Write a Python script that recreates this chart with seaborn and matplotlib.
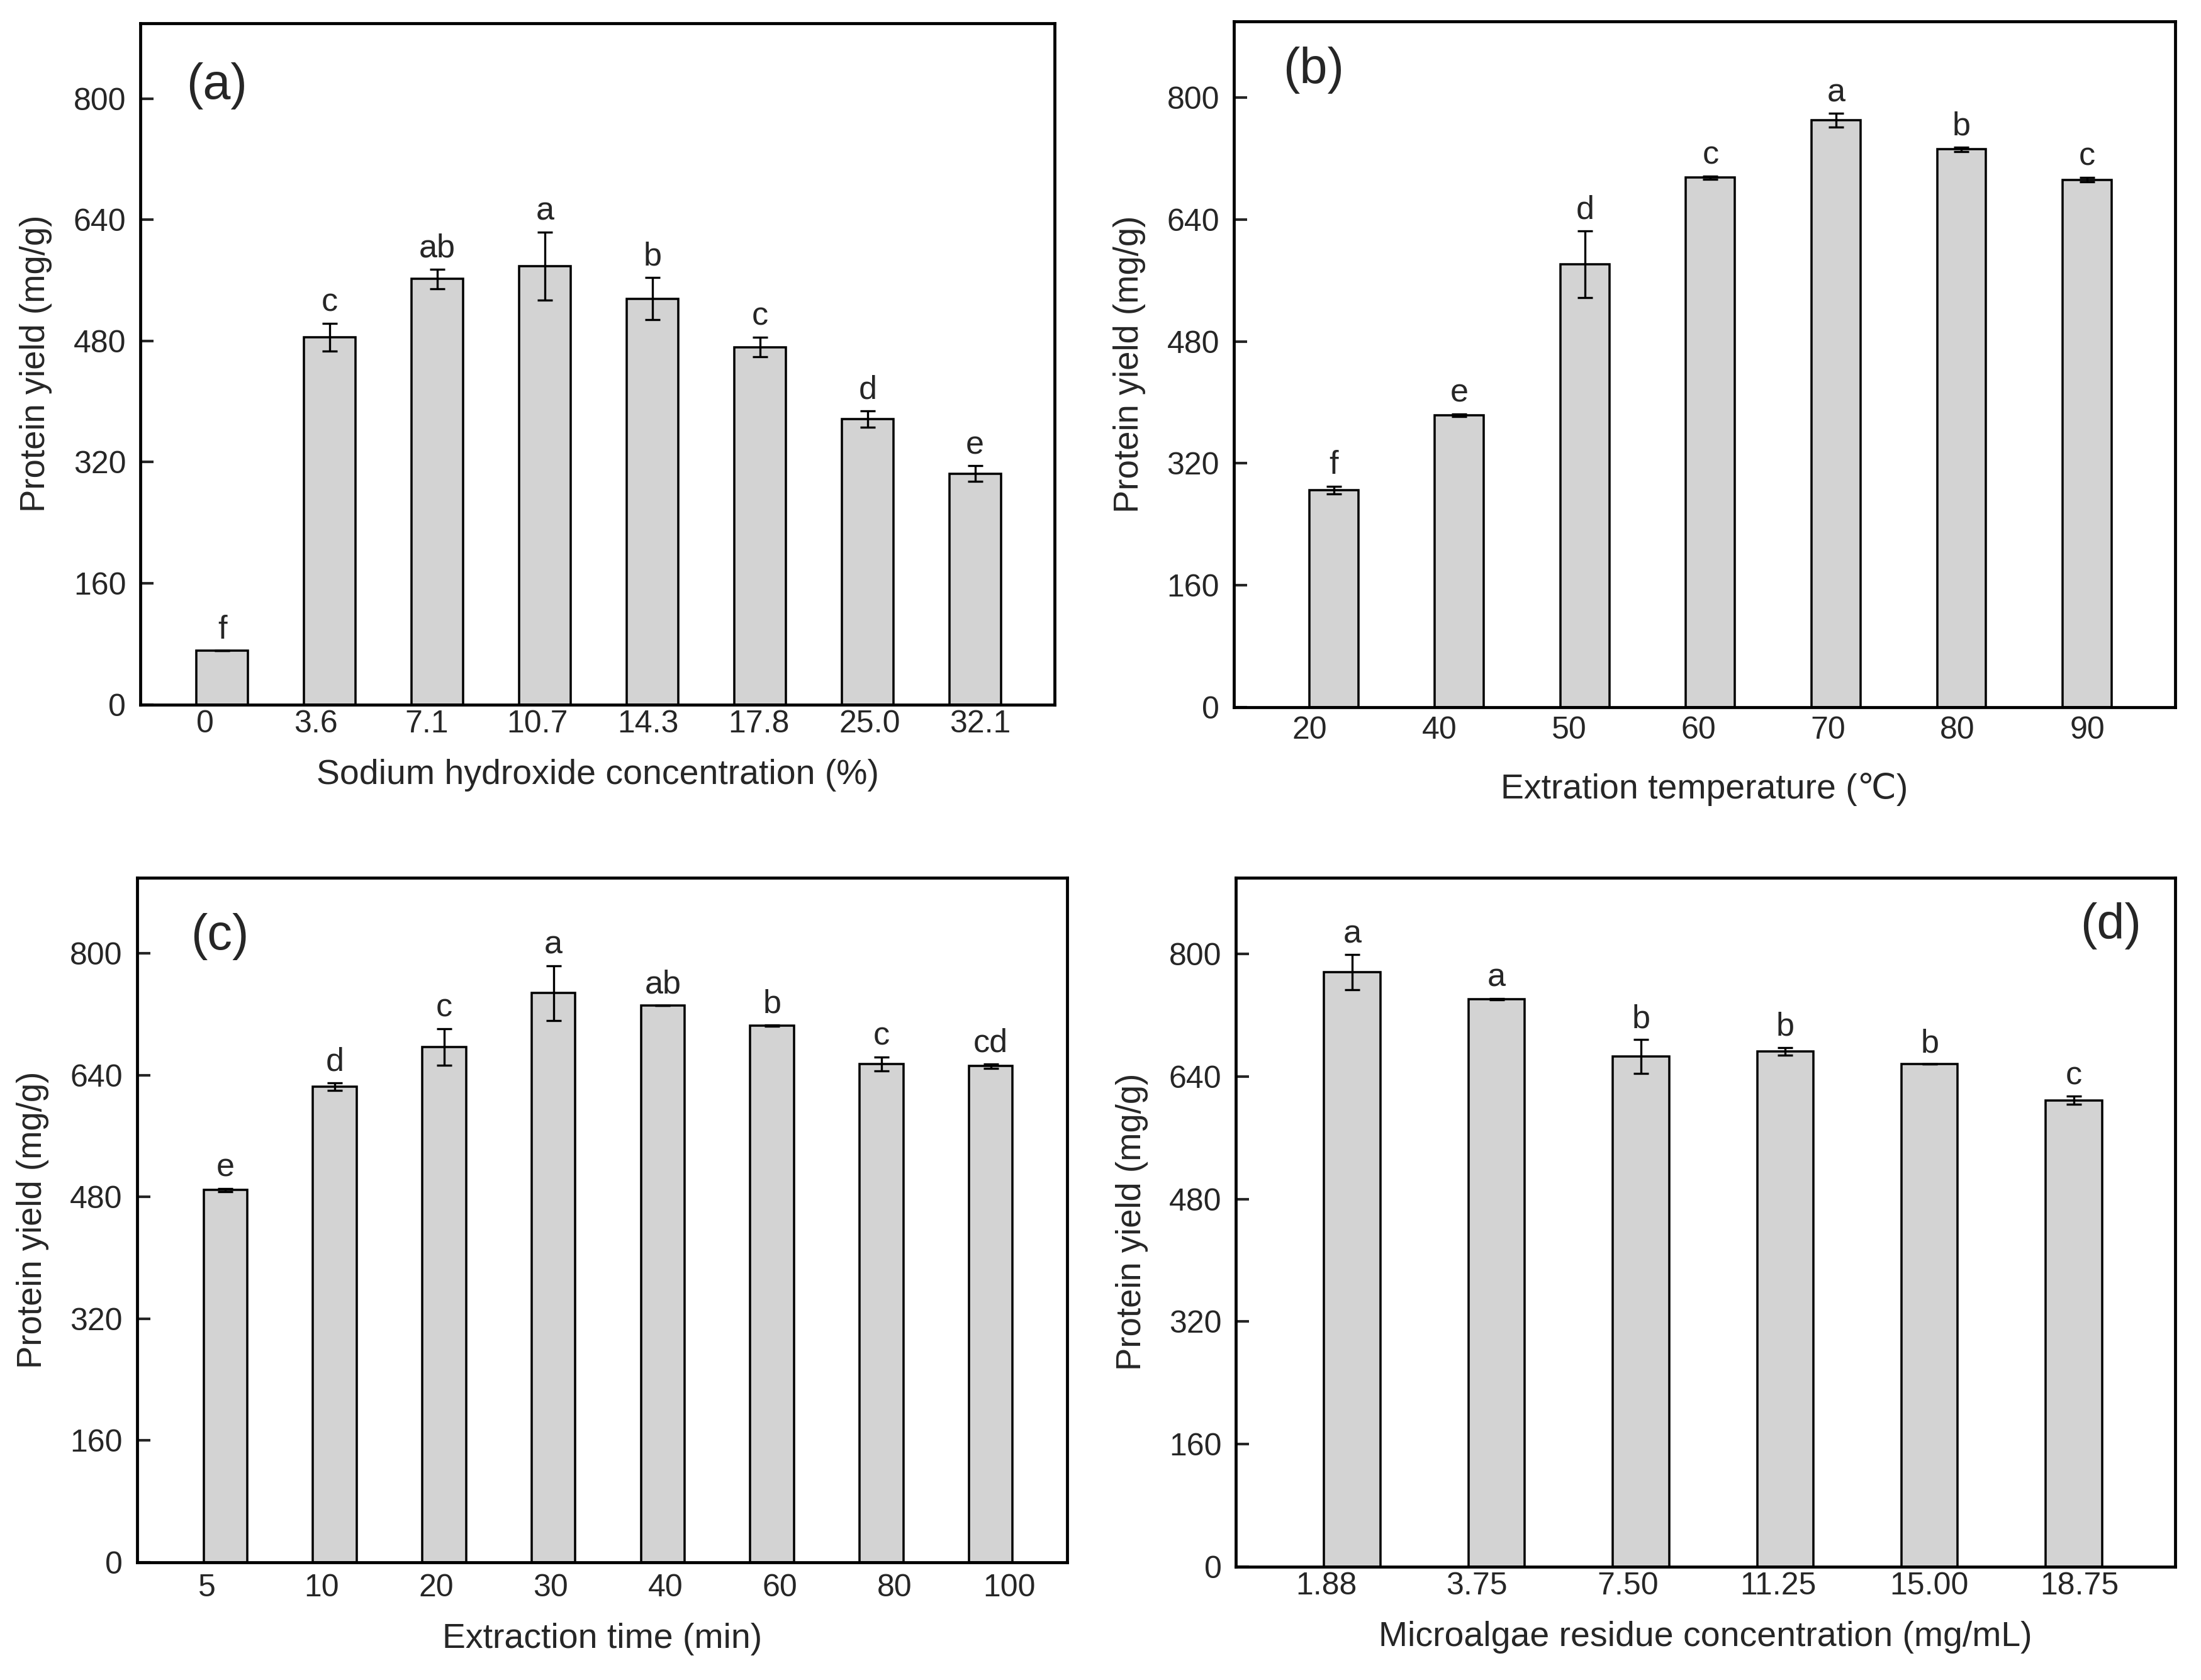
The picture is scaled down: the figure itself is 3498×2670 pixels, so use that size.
import numpy as np
import pandas as pd
import matplotlib
matplotlib.use("Agg")
import matplotlib.pyplot as plt
import seaborn as sns

sns.set_theme(style="ticks")
plt.rcParams['font.family'] = ['Liberation Sans', 'DejaVu Sans']

# (a) sodium hydroxide concentration
naoh_labels = ["0", "3.6", "7.1", "10.7", "14.3", "17.8", "25.0", "32.1"]
naoh_yield = [71, 485, 562, 579, 536, 472, 377, 305]
naoh_err = [0, 18, 13, 45, 28, 13, 11, 10]
naoh_sig = ["f", "c", "ab", "a", "b", "c", "d", "e"]

# (b) extraction temperature
temp_labels = ["20", "40", "50", "60", "70", "80", "90"]
temp_yield = [285, 383, 581, 695, 770, 732, 692]
temp_err = [5, 2, 44, 2, 9, 3, 3]
temp_sig = ["f", "e", "d", "c", "a", "b", "c"]

# (c) extraction time
time_labels = ["5", "10", "20", "30", "40", "60", "80", "100"]
time_yield = [489, 625, 677, 748, 732, 705, 655, 652]
time_err = [2, 5, 24, 36, 0, 1, 9, 3]
time_sig = ["e", "d", "c", "a", "ab", "b", "c", "cd"]

# (d) microalgae residue concentration
resid_labels = ["1.88", "3.75", "7.50", "11.25", "15.00", "18.75"]
resid_yield = [776, 741, 666, 673, 656, 609]
resid_err = [23, 1, 22, 5, 0, 5]
resid_sig = ["a", "a", "b", "b", "b", "c"]

fig = plt.figure(figsize=(3498 / 300, 2670 / 300), dpi=300)

# rect, data..., xlabel, tag, tag position, tag align, bar width, xlim,
# tick label offsets (first, last), tick pad, xlabel pad
panels = [
    ([0.0638, 0.5807, 0.4154, 0.4056], naoh_labels, naoh_yield, naoh_err, naoh_sig,
     "Sodium hydroxide concentration (%)", "(a)", (0.050, 0.908), "left", 0.48,
     (-0.76, 7.74), (-0.16, 0.05), 2.0, 7.6),
    ([0.5606, 0.5791, 0.4276, 0.4082], temp_labels, temp_yield, temp_err, temp_sig,
     "Extration temperature (\u2103)", "(b)", (0.052, 0.929), "left", 0.39,
     (-0.795, 6.70), (-0.19, 0.0), 3.3, 10.7),
    ([0.0622, 0.0702, 0.4227, 0.4075], time_labels, time_yield, time_err, time_sig,
     "Extraction time (min)", "(c)", (0.058, 0.914), "left", 0.40,
     (-0.81, 7.70), (-0.17, 0.17), 4.5, 7.6),
    ([0.5616, 0.0676, 0.4266, 0.4101], resid_labels, resid_yield, resid_err, resid_sig,
     "Microalgae residue concentration (mg/mL)", "(d)", (0.964, 0.930), "right", 0.39,
     (-0.805, 5.70), (-0.18, 0.04), 2.0, 7.6),
]

for (rect, labels, vals, errs, sig, xlabel, tag, tagpos, tagha, width, xlim,
     toff, tpad, lpad) in panels:
    ax = fig.add_axes(rect)
    df = pd.DataFrame({"cat": labels, "val": vals})
    sns.barplot(data=df, x="cat", y="val", order=labels, color="#d3d3d3",
                edgecolor="black", linewidth=0.85, width=width, saturation=1,
                errorbar=None, ax=ax)
    pos = np.arange(len(labels))
    ax.errorbar(pos, vals, yerr=errs, fmt="none", ecolor="black",
                elinewidth=0.8, capsize=2.8, capthick=0.8)
    for p, v, e, s in zip(pos, vals, errs, sig):
        ax.annotate(s, (p, v + e), xytext=(0, 2), textcoords="offset points",
                    ha="center", va="bottom", fontsize=12.5)
    ax.set_ylim(0, 900)
    ax.set_xlim(*xlim)
    ax.set_xticks(np.linspace(toff[0], len(labels) - 1 + toff[1], len(labels)))
    ax.set_xticklabels(labels)
    ax.set_yticks([0, 160, 320, 480, 640, 800])
    ax.tick_params(axis="y", direction="in", length=5, width=1.0, pad=5.5, labelsize=12)
    ax.tick_params(axis="x", length=0, labelsize=12, pad=tpad)
    ax.set_xlabel(xlabel, fontsize=13.3, labelpad=lpad)
    ax.set_ylabel("Protein yield (mg/g)", fontsize=13.1, labelpad=8)
    for sp in ax.spines.values():
        sp.set_visible(True)
        sp.set_linewidth(1.15)
        sp.set_color("black")
    ax.text(tagpos[0], tagpos[1], tag, transform=ax.transAxes, ha=tagha,
            va="center", fontsize=19)

fig.savefig("out.png", dpi=300)
